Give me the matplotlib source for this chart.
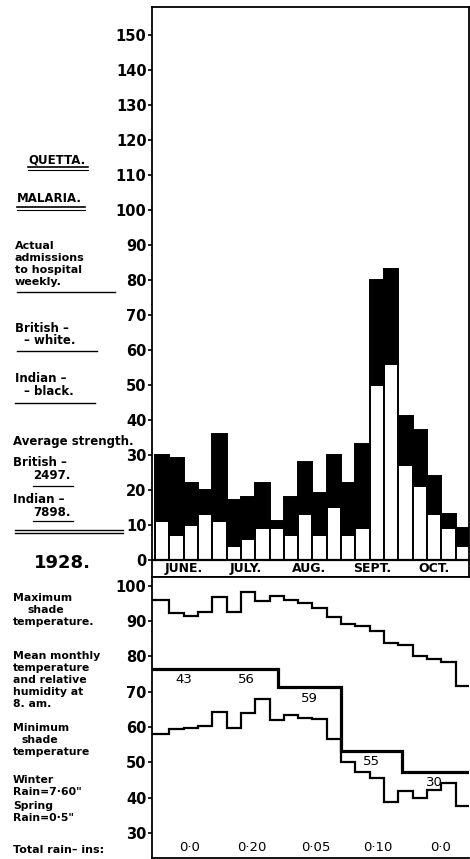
import matplotlib
matplotlib.use("Agg")
import matplotlib.pyplot as plt
from matplotlib.lines import Line2D
import numpy as np
import pandas as pd

# --- data: Quetta malaria admissions, 1928 (weekly) ---
week_start = pd.date_range("1928-06-02", periods=22, freq="7D")
british_adm = [11, 7, 10, 13, 11, 4, 6, 9, 9, 7, 13, 7, 15, 7, 9, 50, 56, 27, 21, 13, 9, 4]
total_adm = [30, 29, 22, 20, 36, 17, 18, 22, 11, 18, 28, 19, 30, 22, 33, 80, 83, 41, 37, 24, 13, 9]

# weekly shade temperatures (deg F)
max_temp = [96.1, 92.4, 91.5, 92.5, 96.9, 92.5, 98.3, 95.7, 97.2, 96.1, 95.0,
            93.6, 91.2, 89.3, 88.7, 87.2, 83.9, 83.2, 80.1, 79.4, 78.3, 71.7]
min_temp = [58.0, 59.4, 59.6, 60.3, 64.3, 59.6, 63.9, 67.8, 62.0, 63.4, 62.6,
            62.2, 56.5, 50.0, 47.2, 45.6, 38.8, 41.9, 39.9, 42.1, 44.2, 37.7]

# monthly values
months = ["JUNE.", "JULY.", "AUG.", "SEPT.", "OCT."]
month_start = pd.to_datetime(["1928-06-01", "1928-07-01", "1928-08-01",
                              "1928-09-01", "1928-10-01", "1928-11-01"])
mean_temp = [76.5, 76.5, 71.2, 53.2, 47.2]
humidity = [43, 56, 59, 55, 30]
rain = ["0·0", "0·20", "0·05", "0·10", "0·0"]

# --- derived ---
origin = month_start[0]
week_x = np.array([(d - origin).days for d in week_start])
month_x = np.array([(d - origin).days for d in month_start])
month_mid = (month_x[:-1] + month_x[1:]) / 2
british = np.array(british_adm)
indian = np.array(total_adm) - british

W, H = 470, 859
XMIN, XMAX = -0.5, 154.6

plt.rcParams["font.family"] = ["DejaVu Sans"]
fig = plt.figure(figsize=(W / 100, H / 100), dpi=100)


def fx(x):
    return x / W


def fy(y):
    return 1 - y / H


ax_top = fig.add_axes([fx(152), fy(577), fx(469) - fx(152), fy(7) - fy(577)])
ax_bot = fig.add_axes([fx(152), fy(858), fx(469) - fx(152), fy(577) - fy(858)])

# --- top panel: admissions ---
ax_top.bar(week_x, british, width=7, align="edge", color="white",
           edgecolor="black", linewidth=1.4)
ax_top.bar(week_x, indian, bottom=british, width=7, align="edge", color="black",
           edgecolor="black", linewidth=1.4)
ax_top.axhline(0, color="black", lw=1.6)
ax_top.set_xlim(XMIN, XMAX)
ax_top.set_ylim(-4.86, 158)
ax_top.set_yticks(range(0, 151, 10))
for name, xm in zip(months, month_mid):
    ax_top.text(xm, -2.45, name, ha="center", va="center", fontsize=9,
                fontweight="bold")

# --- bottom panel: temperatures ---
week_edges = np.concatenate([[XMIN], week_x[1:], [XMAX]])
ax_bot.stairs(max_temp, week_edges, color="black", lw=1.6, baseline=None)
ax_bot.stairs(min_temp, week_edges, color="black", lw=1.6, baseline=None)
month_edges = np.concatenate([[XMIN], month_x[1:-1], [XMAX]])
ax_bot.stairs(mean_temp, month_edges, color="black", lw=2.3, baseline=None)
for xm, h, t in zip(month_mid, humidity, mean_temp):
    ax_bot.annotate(str(h), (xm, t), xytext=(0, -3), textcoords="offset points",
                    ha="center", va="top", fontsize=9.5)
for xm, r in zip(month_mid, rain):
    ax_bot.text(xm + 3, 0.036, r, transform=ax_bot.get_xaxis_transform(),
                ha="center", va="center", fontsize=9.5)
ax_bot.set_xlim(XMIN, XMAX)
ax_bot.set_ylim(22.9, 102.5)
ax_bot.set_yticks(range(30, 101, 10))

for ax in (ax_top, ax_bot):
    ax.set_xticks([])
    ax.tick_params(axis="y", direction="out", length=3, width=1.2, pad=1,
                   labelsize=10.5)
    for lbl in ax.get_yticklabels():
        lbl.set_fontweight("bold")
    for sp in ax.spines.values():
        sp.set_linewidth(1.3)
ax_bot.spines["right"].set_visible(False)

# --- left-hand notes: (text, x, y, size) ---
notes = [
    ("QUETTA.", 28, 160, 8.5), ("MALARIA.", 17, 198, 8.5),
    ("Actual", 15, 246, 8), ("admissions", 15, 258, 8), ("to hospital", 15, 270, 8),
    ("weekly.", 15, 282, 8),
    ("British –", 15, 328, 8.5), ("– white.", 24, 341, 8.5),
    ("Indian –", 15, 378, 8.5), ("– black.", 24, 392, 8.5),
    ("Average strength.", 13, 441, 8.5),
    ("British –", 13, 463, 8.5), ("2497.", 33, 476, 8.5),
    ("Indian –", 13, 499, 8.5), ("7898.", 33, 512, 8.5),
    ("Maximum", 13, 598, 7.8), ("shade", 27, 610, 7.8), ("temperature.", 13, 622, 7.8),
    ("Mean monthly", 13, 656, 7.8), ("temperature", 13, 668, 7.8),
    ("and relative", 13, 680, 7.8), ("humidity at", 13, 692, 7.8),
    ("8. am.", 13, 704, 7.8),
    ("Minimum", 13, 728, 7.8), ("shade", 22, 740, 7.8), ("temperature", 13, 752, 7.8),
    ("Winter", 13, 780, 7.8), ('Rain=7·60"', 13, 792, 7.8),
    ("Spring", 13, 806, 7.8), ('Rain=0·5"', 13, 818, 7.8),
    ("Total rain– ins:", 13, 850, 8),
]
for txt, x, y, size in notes:
    fig.text(fx(x), fy(y), txt, ha="left", va="center", fontsize=size,
             fontweight="bold")
fig.text(fx(62), fy(563), "1928.", ha="center", va="center", fontsize=13,
         fontweight="bold")

rules = [
    (28, 88, 167, 1.2), (28, 88, 170, 0.8),
    (17, 85, 207, 1.2), (17, 85, 210, 0.8),
    (17, 115, 292, 1.0), (17, 97, 351, 1.0), (15, 95, 403, 1.0),
    (33, 73, 486, 0.9), (33, 73, 521, 0.9),
    (15, 123, 530, 1.0), (15, 123, 533, 1.0),
]
for x0, x1, y, lw in rules:
    fig.add_artist(Line2D([fx(x0), fx(x1)], [fy(y), fy(y)],
                          transform=fig.transFigure, color="black", lw=lw))

fig.savefig("out.png", dpi=100)
